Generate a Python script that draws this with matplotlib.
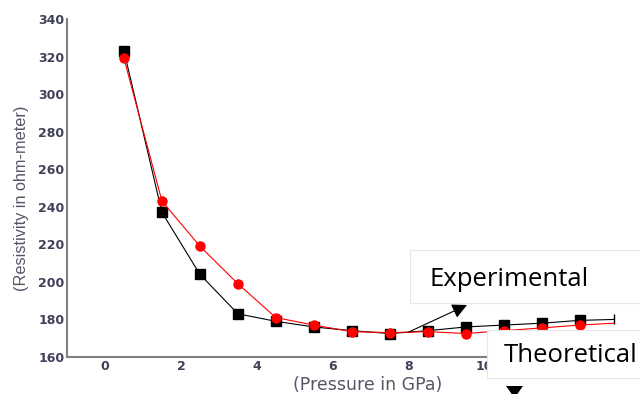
import matplotlib
matplotlib.use("Agg")
import matplotlib.pyplot as plt
from matplotlib.patches import Rectangle, Polygon

pressure = [0.5, 1.5, 2.5, 3.5, 4.5, 5.5, 6.5, 7.5, 8.5, 9.5, 10.5, 11.5, 12.5]
experimental = [323, 237, 204, 183, 179, 176, 174, 172.5, 174, 176, 177, 178, 179.5]
theoretical = [319, 243, 219, 199, 181, 177, 173.5, 173, 173.5, 172.5, 174, 175.5, 177]
end_x = 13.4
end_exp = 180
end_theo = 178

xticks = [0, 2, 4, 6, 8, 10, 12]
yticks = [160, 180, 200, 220, 240, 260, 280, 300, 320, 340]

fig = plt.figure(figsize=(6.4, 3.94), dpi=100)
ax = fig.add_axes([0.1047, 0.0939, 0.89, 0.858])

ax.plot(pressure + [end_x], experimental + [end_exp], color="black", lw=0.8, zorder=2)
ax.plot(pressure, experimental, ls="none", marker="s", ms=6.5, color="black", zorder=3)
ax.plot([end_x], [end_exp], ls="none", marker="|", ms=7, color="black", mew=1)
ax.plot(pressure + [end_x], theoretical + [end_theo], color="red", lw=0.8, zorder=4)
ax.plot(pressure, theoretical, ls="none", marker="o", ms=6.5, color="red", zorder=5)

ax.set_xlim(-1, 14)
ax.set_ylim(160, 340)
ax.set_xticks(xticks)
ax.set_yticks(yticks)
ax.tick_params(length=0, pad=2, labelsize=9, labelcolor="#404058")
for lab in ax.get_xticklabels() + ax.get_yticklabels():
    lab.set_fontfamily("DejaVu Sans")
    lab.set_fontweight("bold")
for s in ["top", "right"]:
    ax.spines[s].set_visible(False)
for s in ["left", "bottom"]:
    ax.spines[s].set_color("#808080")
    ax.spines[s].set_linewidth(1.5)

ax.set_xlabel("(Pressure in GPa)", fontsize=12.5, color="#555566", family="DejaVu Sans")
ax.set_ylabel("(Resistivity in ohm-meter)", fontsize=11.7, color="#555566", family="Liberation Sans")
ax.xaxis.set_label_coords((368 - 67) / 570, -19 / 338)
ax.yaxis.set_label_coords(-38 / 570, (357 - 198) / 338)


def px(x, y):
    return (x / 640, 1 - y / 394)


r1 = Rectangle(px(410, 303), 235 / 640, 53 / 394, transform=fig.transFigure,
               facecolor="white", edgecolor="#e6e6e6", lw=0.8, zorder=10)
fig.patches.append(r1)
fig.text(*px(429, 279), "Experimental", fontsize=18.5, family="Open Sans",
         va="center", ha="left", color="black", zorder=11)

ax.annotate("", xy=px(467, 305), xycoords="figure fraction",
            xytext=(8, 173.3), textcoords="data",
            arrowprops=dict(arrowstyle="-|>,head_length=0.9,head_width=0.45", color="black", lw=0.8,
                            shrinkA=0, shrinkB=0), zorder=12)

r2 = Rectangle(px(487, 378), 160 / 640, 48 / 394, transform=fig.transFigure,
               facecolor="white", edgecolor="#e6e6e6", lw=0.8, zorder=10)
fig.patches.append(r2)
fig.text(*px(504, 356), "Theoretical", fontsize=18.5, family="Open Sans",
         va="center", ha="left", color="black", zorder=11)

fig.patches.append(Polygon([px(506, 386), px(523, 386), px(514.5, 398)],
                           closed=True, transform=fig.transFigure,
                           facecolor="black", edgecolor="none", zorder=12))

fig.savefig("out.png", dpi=100)
